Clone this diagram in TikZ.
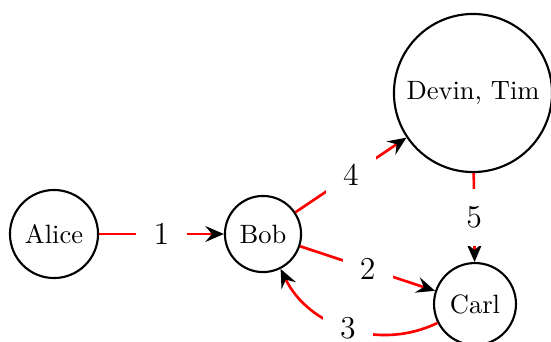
\documentclass[tikz,border=0pt]{standalone}
\usetikzlibrary{arrows.meta}
\begin{document}
\begin{tikzpicture}[x=0.377pt, y=-0.377pt,
  person/.style={circle, draw, line width=0.8pt, inner sep=0pt},
  link/.style={red, line width=1pt, -{Stealth[black, length=7pt, width=6pt, inset=2.5pt]}},
  weight/.style={fill=white, text=black, inner sep=6.5pt, font=\large}]
\useasboundingbox (0,0) rectangle (551,341);
% people
\node[person, minimum size=33.2pt] (alice) at (54,234) {Alice};
\node[person, minimum size=28.7pt] (bob) at (263,234) {Bob};
\node[person, minimum size=59.6pt] (devin) at (473,93) {Devin, Tim};
\node[person, minimum size=30.9pt] (carl) at (475,304) {Carl};
% weighted links
\draw[link] (alice) -- node[weight] {1} (bob);
\draw[link] (bob) -- node[weight] {2} (carl);
\draw[link] (carl) to[bend left=45] node[weight] {3} (bob);
\draw[link] (bob) -- node[weight] {4} (devin);
\draw[link] (devin) -- node[weight] {5} (carl);
\end{tikzpicture}
\end{document}
